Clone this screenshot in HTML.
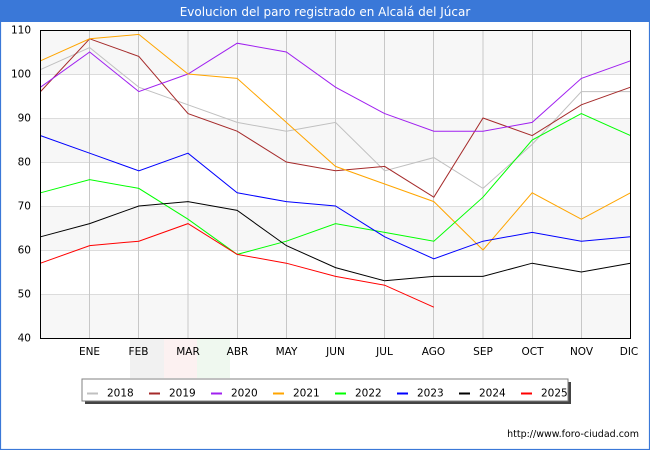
<!DOCTYPE html>
<html>
<head>
<meta charset="utf-8">
<style>
html,body{margin:0;padding:0;background:#fff;}
#wrap{position:relative;width:650px;height:450px;overflow:hidden;background:#fff;}
svg{position:absolute;left:0;top:0;}
text{font-family:"DejaVu Sans","Liberation Sans",sans-serif;}
</style>
</head>
<body>
<div id="wrap">
<svg width="650" height="450" viewBox="0 0 650 450" xmlns="http://www.w3.org/2000/svg">
  <!-- outer frame -->
  <rect x="0" y="0" width="650" height="450" fill="#fff"/>
  <rect x="0.5" y="0.5" width="649" height="449" fill="none" stroke="#3a78d8" stroke-width="1.2"/>
  <rect x="0" y="0" width="650" height="22" fill="#3a78d8"/>
  <text x="325" y="16" font-size="12" fill="#ffffff" text-anchor="middle">Evolucion del paro registrado en Alcalá del Júcar</text>

  <!-- plot background bands -->
  <rect x="40" y="30" width="590" height="308" fill="#ffffff"/>
  <rect x="40" y="30" width="590" height="44" fill="#f7f7f7"/>
  <rect x="40" y="118" width="590" height="44" fill="#f7f7f7"/>
  <rect x="40" y="206" width="590" height="44" fill="#f7f7f7"/>
  <rect x="40" y="294" width="590" height="44" fill="#f7f7f7"/>

  <!-- horizontal grid -->
  <g stroke="#dcdcdc" stroke-width="1">
    <line x1="40" y1="74.5" x2="630" y2="74.5"/>
    <line x1="40" y1="118.5" x2="630" y2="118.5"/>
    <line x1="40" y1="162.5" x2="630" y2="162.5"/>
    <line x1="40" y1="206.5" x2="630" y2="206.5"/>
    <line x1="40" y1="250.5" x2="630" y2="250.5"/>
    <line x1="40" y1="294.5" x2="630" y2="294.5"/>
  </g>
  <!-- vertical grid -->
  <g stroke="#c8c8c8" stroke-width="1">
    <line x1="89.5" y1="30" x2="89.5" y2="338"/>
    <line x1="138.5" y1="30" x2="138.5" y2="338"/>
    <line x1="188" y1="30" x2="188" y2="338"/>
    <line x1="237.5" y1="30" x2="237.5" y2="338"/>
    <line x1="286.5" y1="30" x2="286.5" y2="338"/>
    <line x1="335.5" y1="30" x2="335.5" y2="338"/>
    <line x1="384.5" y1="30" x2="384.5" y2="338"/>
    <line x1="433.5" y1="30" x2="433.5" y2="338"/>
    <line x1="483" y1="30" x2="483" y2="338"/>
    <line x1="532.5" y1="30" x2="532.5" y2="338"/>
    <line x1="581.5" y1="30" x2="581.5" y2="338"/>
  </g>

  <!-- data series: x = index, y = value -->
  <g transform="translate(40.5,514) scale(49.1667,-4.4)" fill="none" stroke-width="1" stroke-linejoin="miter">
    <polyline vector-effect="non-scaling-stroke" stroke="#c0c0c0" points="0,101 1,106 2,97 3,93 4,89 5,87 6,89 7,78 8,81 9,74 10,84 11,96 12,96"/>
    <polyline vector-effect="non-scaling-stroke" stroke="#a52a2a" points="0,96 1,108 2,104 3,91 4,87 5,80 6,78 7,79 8,72 9,90 10,86 11,93 12,97"/>
    <polyline vector-effect="non-scaling-stroke" stroke="#a020f0" points="0,97 1,105 2,96 3,100 4,107 5,105 6,97 7,91 8,87 9,87 10,89 11,99 12,103"/>
    <polyline vector-effect="non-scaling-stroke" stroke="#ffa500" points="0,103 1,108 2,109 3,100 4,99 5,89 6,79 7,75 8,71 9,60 10,73 11,67 12,73"/>
    <polyline vector-effect="non-scaling-stroke" stroke="#00ff00" points="0,73 1,76 2,74 3,67 4,59 5,62 6,66 7,64 8,62 9,72 10,85 11,91 12,86"/>
    <polyline vector-effect="non-scaling-stroke" stroke="#0000ff" points="0,86 1,82 2,78 3,82 4,73 5,71 6,70 7,63 8,58 9,62 10,64 11,62 12,63"/>
    <polyline vector-effect="non-scaling-stroke" stroke="#000000" points="0,63 1,66 2,70 3,71 4,69 5,61 6,56 7,53 8,54 9,54 10,57 11,55 12,57"/>
    <polyline vector-effect="non-scaling-stroke" stroke="#ff0000" points="0,57 1,61 2,62 3,66 4,59 5,57 6,54 7,52 8,47"/>
  </g>

  <!-- plot border -->
  <rect x="40.5" y="30.5" width="590" height="308" fill="none" stroke="#000" stroke-width="1"/>

  <!-- faint watermark flag -->
  <rect x="130" y="339" width="34" height="39" fill="#f1f1f1"/>
  <rect x="164" y="339" width="33" height="39" fill="#fcf1f1"/>
  <rect x="197" y="339" width="33" height="39" fill="#eff8ef"/>

  <!-- y labels -->
  <g font-size="10.5" fill="#000" text-anchor="end">
    <text x="31" y="33.5">110</text>
    <text x="31" y="77.5">100</text>
    <text x="31" y="121.5">90</text>
    <text x="31" y="165.5">80</text>
    <text x="31" y="209.5">70</text>
    <text x="31" y="253.5">60</text>
    <text x="31" y="297.5">50</text>
    <text x="31" y="341.5">40</text>
  </g>
  <!-- x labels -->
  <g font-size="10.5" fill="#000" text-anchor="middle">
    <text x="89.5" y="355">ENE</text>
    <text x="138.5" y="355">FEB</text>
    <text x="188" y="355">MAR</text>
    <text x="237.5" y="355">ABR</text>
    <text x="286.5" y="355">MAY</text>
    <text x="335.5" y="355">JUN</text>
    <text x="384.5" y="355">JUL</text>
    <text x="433.5" y="355">AGO</text>
    <text x="483" y="355">SEP</text>
    <text x="532.5" y="355">OCT</text>
    <text x="581.5" y="355">NOV</text>
    <text x="629" y="355">DIC</text>
  </g>

  <!-- legend -->
  <rect x="85" y="382" width="486" height="22" fill="#444"/>
  <rect x="82" y="379" width="486" height="22" fill="#fff" stroke="#808080" stroke-width="1"/>
  <g stroke-width="2">
    <line x1="87" y1="393.5" x2="98" y2="393.5" stroke="#c0c0c0"/>
    <line x1="149" y1="393.5" x2="160" y2="393.5" stroke="#a52a2a"/>
    <line x1="211" y1="393.5" x2="222" y2="393.5" stroke="#a020f0"/>
    <line x1="273" y1="393.5" x2="284" y2="393.5" stroke="#ffa500"/>
    <line x1="335" y1="393.5" x2="346" y2="393.5" stroke="#00ff00"/>
    <line x1="397" y1="393.5" x2="408" y2="393.5" stroke="#0000ff"/>
    <line x1="459" y1="393.5" x2="470" y2="393.5" stroke="#000000"/>
    <line x1="521" y1="393.5" x2="532" y2="393.5" stroke="#ff0000"/>
  </g>
  <g font-size="10.5" fill="#000">
    <text x="107" y="396.5">2018</text>
    <text x="169" y="396.5">2019</text>
    <text x="231" y="396.5">2020</text>
    <text x="293" y="396.5">2021</text>
    <text x="355" y="396.5">2022</text>
    <text x="417" y="396.5">2023</text>
    <text x="479" y="396.5">2024</text>
    <text x="541" y="396.5">2025</text>
  </g>

  <!-- footer url -->
  <text x="639" y="437" font-size="9.5" fill="#000" text-anchor="end">http://www.foro-ciudad.com</text>
</svg>
</div>
</body>
</html>
